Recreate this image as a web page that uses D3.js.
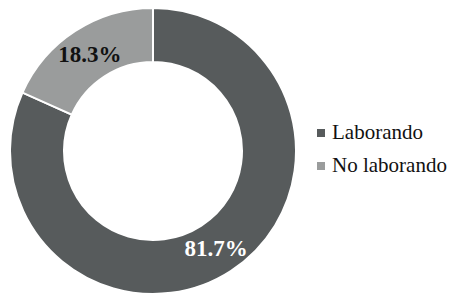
<!DOCTYPE html>
<html>
<head>
<meta charset="utf-8">
<script src="https://cdn.jsdelivr.net/npm/d3@7"></script>
<style>
  body { margin: 0; background: #fff; }
  svg { display: block; }
  text { font-family: 'Liberation Serif', Tinos, 'DejaVu Serif', serif; }
</style>
</head>
<body>
<svg id="chart" width="451" height="295"></svg>
<script>
// data
var categories = ['Laborando', 'No laborando'],
    values = [81.7, 18.3],
    labels = ['81.7%', '18.3%'],
    colors = ['#575b5c', '#9a9c9c'],
    labelColors = ['#ffffff', '#111111'];

var svg = d3.select('#chart'),
    cx = 153,
    cy = 151,
    outerR = 143,
    innerR = 89;

var pie = d3.pie().sort(null).value(function (d) { return d; }),
    arc = d3.arc().innerRadius(innerR).outerRadius(outerR),
    arcs = pie(values);

var g = svg.append('g').attr('transform', 'translate(' + cx + ',' + cy + ')');

g.selectAll('path')
    .data(arcs)
    .enter().append('path')
    .attr('d', arc)
    .attr('fill', function (d, i) { return colors[i]; })
    .attr('stroke', '#fff')
    .attr('stroke-width', 2);

g.selectAll('text')
    .data(arcs)
    .enter().append('text')
    .attr('transform', function (d) { return 'translate(' + arc.centroid(d) + ')'; })
    .attr('text-anchor', 'middle')
    .attr('dy', '0.35em')
    .attr('font-weight', 'bold')
    .attr('font-size', 23)
    .attr('fill', function (d, i) { return labelColors[i]; })
    .text(function (d, i) { return labels[i]; });

// legend
var legend = svg.append('g').attr('transform', 'translate(317,133)'),
    item = legend.selectAll('g')
        .data(categories)
        .enter().append('g')
        .attr('transform', function (d, i) { return 'translate(0,' + (i * 33) + ')'; });

item.append('rect')
    .attr('x', 0)
    .attr('y', -4)
    .attr('width', 8)
    .attr('height', 8)
    .attr('fill', function (d, i) { return colors[i]; });

item.append('text')
    .attr('x', 15)
    .attr('y', 6)
    .attr('font-size', 21)
    .attr('fill', '#111')
    .text(function (d) { return d; });
</script>
</body>
</html>
